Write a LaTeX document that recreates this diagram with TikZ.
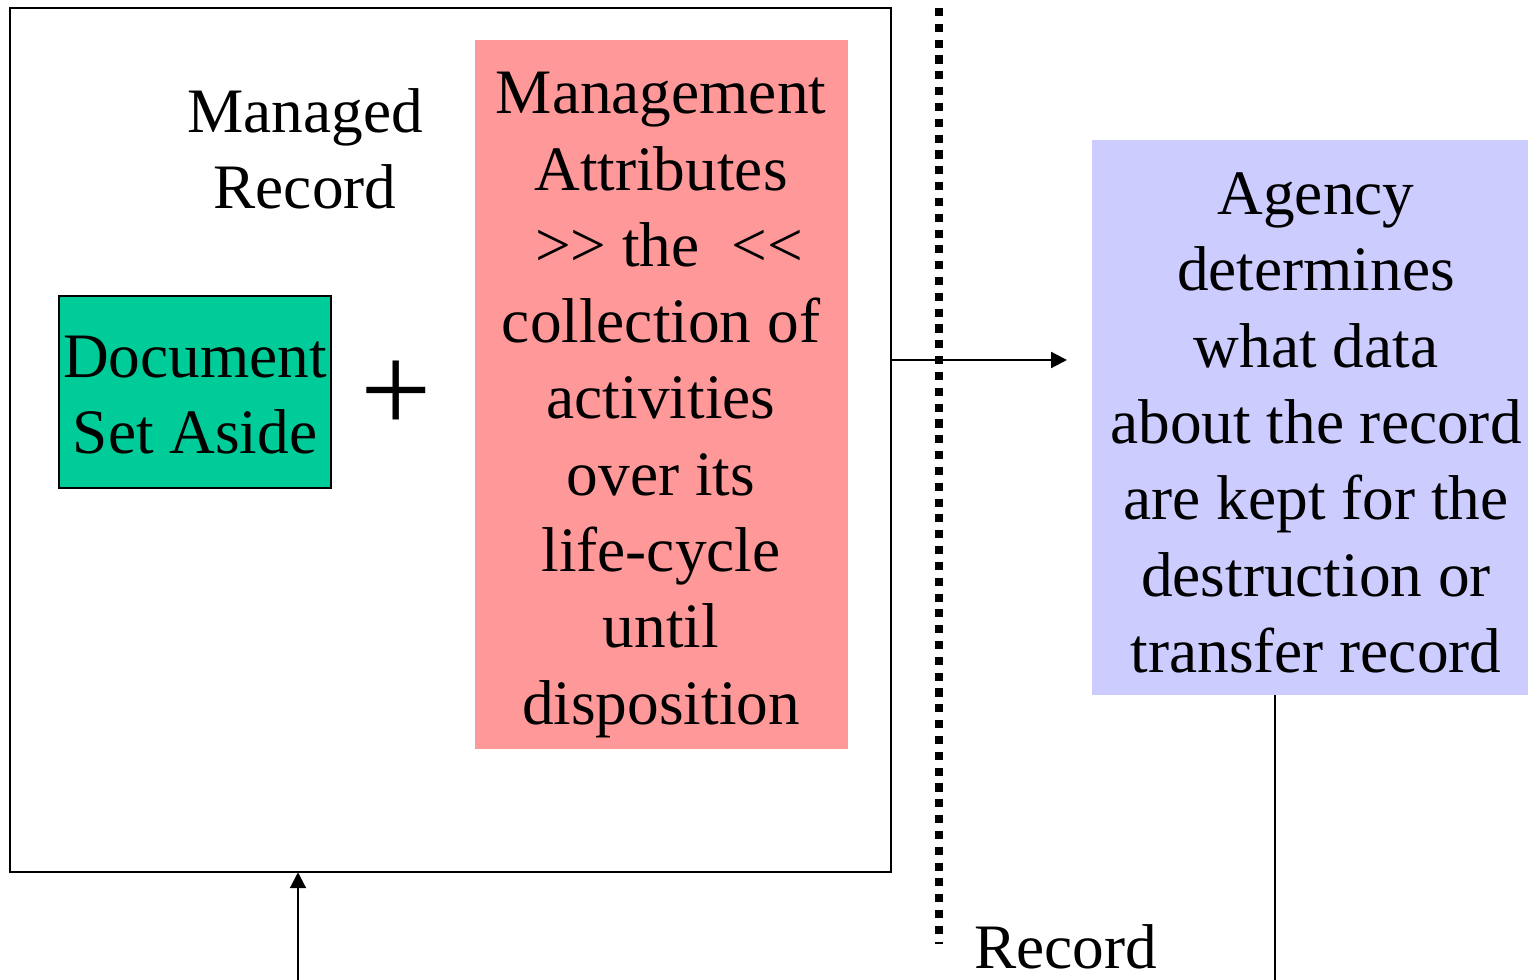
\documentclass[tikz,border=0pt]{standalone}
\usepackage{fontspec}
\setmainfont{Liberation Serif}
\usepackage{tikz}
\usetikzlibrary{arrows.meta,calc,positioning}
\definecolor{setaside}{HTML}{00CC99}
\definecolor{attrs}{HTML}{FF9999}
\definecolor{agency}{HTML}{CCCCFF}
\tikzset{
  slide/.style={font=\fontsize{18}{21.7}\selectfont,align=center,inner sep=0pt},
  panel/.style={rectangle,inner sep=0pt,outer sep=0pt},
  tip/.style={-{Triangle[length=4.5pt,width=4.5pt]}}
}
\begin{document}
\begin{tikzpicture}[x=0.01cm,y=-0.01cm,every path/.style={line width=0.6pt}]
  \useasboundingbox (0,0) rectangle (1528,980);
  \node[panel,draw,minimum width=8.81cm,minimum height=8.64cm] (rec) at (450.5,440) {};
  \node[panel,draw,fill=setaside,minimum width=2.72cm,minimum height=1.92cm] (doc) at (195,392) {};
  \node[panel,fill=attrs,minimum width=3.73cm,minimum height=7.09cm] (attr) at (661.5,394.5) {};
  \node[panel,fill=agency,minimum width=4.36cm,minimum height=5.55cm] (agcy) at (1310,417.5) {};
  \node[slide] (managed) at (305,149) {Managed\\Record};
  \node[slide] (doctext) at (195,395) {Document\\Set Aside};
  \node[slide,font=\fontsize{36}{40}\selectfont] (plus) at (396,397) {+};
  \node[slide] (attrtext) at (661,405) {Management\\Attributes\\~>\kern0pt> the~~<\kern0pt<\\collection of\\activities\\over its\\life-cycle\\until\\disposition};
  \node[slide] (agcytext) at (1316,423) {Agency\\determines\\what data\\about the record\\are kept for the\\destruction or\\transfer record};
  \node[slide,anchor=base west] (rectext) at (973,968) {Record};
  \coordinate (head) at (1067,360);
  \coordinate (foot) at (298,980);
  \coordinate (drop) at (1275,980);
  \coordinate (divtop) at (939,8);
  \coordinate (divbot) at (939,944);
  \draw[tip] (head -| rec.east) -- (head);
  \draw[tip] (foot) -- (foot |- rec.south);
  \draw (drop |- agcy.south) -- (drop);
  \draw[line width=2.3pt,dash pattern=on 2.3pt off 2.2pt] (divtop) -- (divbot);
\end{tikzpicture}
\end{document}
